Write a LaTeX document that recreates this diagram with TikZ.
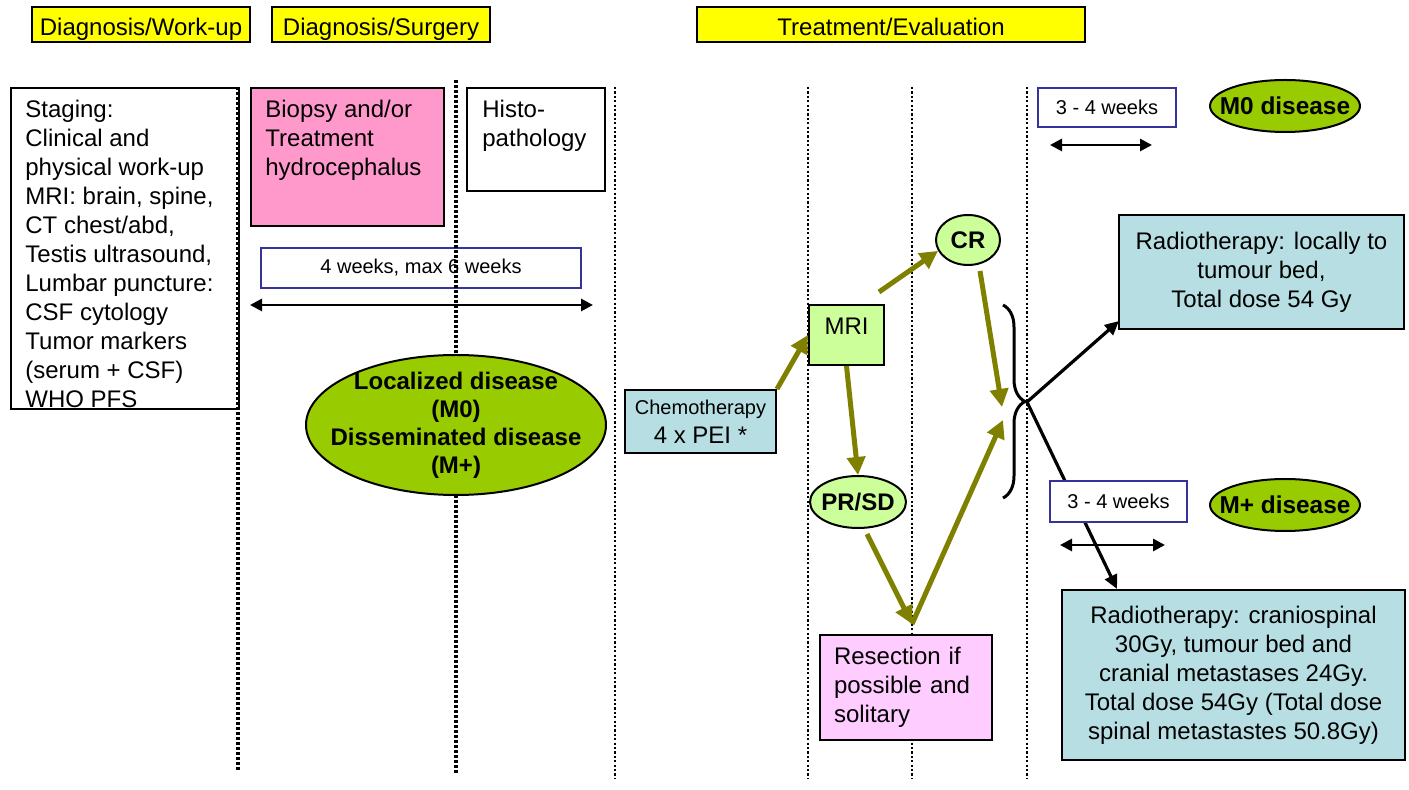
\documentclass[tikz,border=0pt]{standalone}
\usepackage{fontspec}
\setmainfont{Liberation Sans}
\usetikzlibrary{shapes.geometric,arrows.meta,decorations.pathreplacing,calc}

\definecolor{hdryellow}{HTML}{FFFF00}
\definecolor{biopink}{HTML}{FF99CC}
\definecolor{respink}{HTML}{FFCCFF}
\definecolor{rtblue}{HTML}{B7DFE3}
\definecolor{lightgreen}{HTML}{CCFF99}
\definecolor{dgreen}{HTML}{99CC00}
\definecolor{arrolive}{HTML}{808000}
\definecolor{wkblue}{HTML}{333399}

\begin{document}
\begin{tikzpicture}[x=0.5pt, y=-0.5pt,
    font=\fontsize{12}{14.5}\selectfont,
    box/.style={draw, line width=1pt, inner sep=0pt},
    hdr/.style={box, fill=hdryellow, minimum height=17.5pt, text height=10.6pt, text depth=0pt},
    wk/.style={draw=wkblue, line width=0.8pt, inner sep=0pt, font=\fontsize{10}{12}\selectfont},
    blob/.style={ellipse, draw, line width=1pt, inner sep=0pt},
    blobtxt/.style={align=center, inner sep=0pt, font=\fontsize{12}{14}\selectfont\bfseries},
    txt/.style={anchor=north west, align=left, inner sep=0pt},
    septhick/.style={line width=1.6pt, dash pattern=on 1.5pt off 1pt},
    septhin/.style={line width=1.3pt, dash pattern=on 1.1pt off 1.1pt},
    flow/.style={draw=arrolive, line width=2.5pt, -{Triangle[length=9pt,width=9pt]}},
    rt/.style={line width=1.6pt, -{Triangle[length=7pt,width=6.5pt]}},
    span/.style={line width=1.4pt, {Triangle[length=6pt,width=6pt]}-{Triangle[length=6pt,width=6pt]}}]

    \useasboundingbox (0,0) rectangle (1409,790);

    % Phase headers
    \node[hdr, minimum width=109pt] (hdrwork) at (141,24.5) {Diagnosis/Work-up};
    \node[hdr, minimum width=109pt] (hdrsurg) at (381,24.5) {Diagnosis/Surgery};
    \node[hdr, minimum width=194pt] (hdrtreat) at (891,24.5) {Treatment/Evaluation};

    % Time span before surgery
    \node[wk, minimum width=160pt, minimum height=20pt] (wksix) at (421,268) {4 weeks, max 6 weeks};

    % Phase separators
    \draw[septhick] (238,87) -- (238,772);
    \draw[septhick] (456,80) -- (456,775);
    \foreach \x in {615,808,912,1027}
        \draw[septhin] (\x,87) -- (\x,778);

    % Work-up
    \node[box, anchor=north west, minimum width=114pt, minimum height=160.5pt] (staging) at (10,87) {};
    \node[txt] (stagingtxt) at (25,100) {Staging:\\Clinical and\\physical work-up\\MRI: brain, spine,\\CT chest/abd,\\Testis ultrasound,\\Lumbar puncture:\\CSF cytology\\Tumor markers\\(serum + CSF)\\WHO PFS};

    % Surgery
    \node[box, fill=biopink, anchor=north west, minimum width=96.5pt, minimum height=69pt] (biopsy) at (250,87) {};
    \node[txt] (biopsytxt) at (265,100) {Biopsy and/or\\Treatment\\hydrocephalus};
    \node[box, anchor=north west, minimum width=69pt, minimum height=51.5pt] (histo) at (466,87) {};
    \node[txt] (histotxt) at (482,100) {Histo-\\pathology};

    \coordinate (spanAl) at (250,305);
    \coordinate (spanAr) at (593,305);
    \draw[span] (spanAl) -- (spanAr);

    \node[blob, fill=dgreen, minimum width=150pt, minimum height=70pt] (dis) at (456,425) {};
    \node[blobtxt] (distxt) at (dis) {Localized disease\\(M0)\\Disseminated disease\\(M+)};

    % Treatment and evaluation
    \node[box, fill=rtblue, minimum width=75.5pt, minimum height=31.5pt, align=center] (chemo) at (700.5,421.5) {{\fontsize{10}{12}\selectfont Chemotherapy}\\4 x PEI *};
    \node[box, fill=lightgreen, minimum width=37.5pt, minimum height=30pt, text depth=9pt] (mri) at (846.5,335) {MRI};
    \node[blob, fill=lightgreen, minimum width=32pt, minimum height=25pt] (cr) at (968,240) {};
    \node[blobtxt] (crtxt) at (cr) {CR};
    \node[blob, fill=lightgreen, minimum width=48pt, minimum height=26pt] (prsd) at (858,502) {};
    \node[blobtxt] (prsdtxt) at (prsd) {PR/SD};
    \node[box, fill=respink, minimum width=86pt, minimum height=52.5pt, text width=72pt, align=left] (resect) at (906,687.5) {Resection if\\possible and\\solitary};

    \coordinate (crin) at (1002,407);
    \coordinate (resin) at (1003,420);
    \coordinate (vtip) at (912,624);
    \draw[flow] (chemo.north east) -- (mri.west);
    \draw[flow] ($(mri.north east)+(-6,-12)$) -- (cr.200);
    \draw[flow] ($(cr.south)+(12,5)$) -- (crin);
    \draw[flow] (mri.south) -- (prsd.north);
    \draw[flow] ($(prsd.south)+(9,5)$) -- (vtip);
    \draw[flow] (vtip) -- (resin);

    % Brace and radiotherapy
    \coordinate (braceTop) at (1003,305);
    \coordinate (braceBot) at (1003,498);
    \coordinate (bracetip) at (1027,402);
    \draw[line width=1.5pt, decorate, decoration={brace, amplitude=11pt}] (braceTop) -- (braceBot);

    \node[box, fill=rtblue, minimum width=142.5pt, minimum height=57pt, align=center] (rtmzero) at (1261.5,272) {Radiotherapy: locally to\\tumour bed,\\Total dose 54 Gy};
    \node[box, fill=rtblue, minimum width=171.5pt, minimum height=85pt, align=center] (rtmplus) at (1233.5,675) {Radiotherapy: craniospinal\\30Gy, tumour bed and\\cranial metastases 24Gy.\\Total dose 54Gy (Total dose\\spinal metastastes 50.8Gy)};

    \draw[rt] (bracetip) -- ($(rtmzero.south west)+(1,-9)$);
    \draw[rt] (bracetip) -- ($(rtmplus.north west)+(56,0)$);

    % M0 side
    \node[wk, fill=white, minimum width=69pt, minimum height=19.5pt] (wkmzero) at (1107,107.5) {3 - 4 weeks};
    \node[blob, fill=dgreen, minimum width=75pt, minimum height=26pt] (mzero) at (1285,106) {};
    \node[blobtxt, font=\fontsize{12.2}{14}\selectfont\bfseries] (mzerotxt) at (mzero) {M0 disease};
    \coordinate (spanBl) at (1050,145);
    \coordinate (spanBr) at (1152,145);
    \draw[span] (spanBl) -- (spanBr);

    % M+ side
    \node[wk, fill=white, minimum width=68.5pt, minimum height=20.5pt] (wkmplus) at (1118.5,501.5) {3 - 4 weeks};
    \node[blob, fill=dgreen, minimum width=75pt, minimum height=26pt] (mplus) at (1285,505) {};
    \node[blobtxt, font=\fontsize{12.2}{14}\selectfont\bfseries] (mplustxt) at (mplus) {M+ disease};
    \coordinate (spanCl) at (1060,545);
    \coordinate (spanCr) at (1165,545);
    \draw[span] (spanCl) -- (spanCr);
\end{tikzpicture}
\end{document}
